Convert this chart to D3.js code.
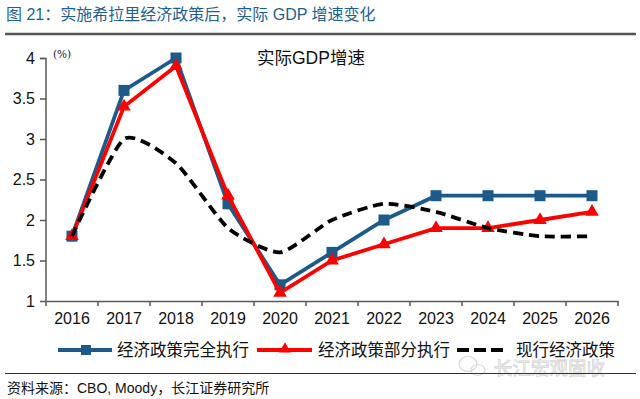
<!DOCTYPE html>
<html><head><meta charset="utf-8">
<script src="https://cdn.jsdelivr.net/npm/d3@7"></script>
<style>body{margin:0;background:#fff;} svg{display:block;}</style>
</head><body>
<svg id="c" width="640" height="399"></svg>
<script>
const years = ["2016","2017","2018","2019","2020","2021","2022","2023","2024","2025","2026"];
const fullPolicy = [1.8,3.6,4.0,2.2,1.2,1.6,2.0,2.3,2.3,2.3,2.3];
const partialPolicy = [1.8,3.4,3.9,2.3,1.1,1.5,1.7,1.9,1.9,2.0,2.1];
const currentPolicy = [1.8,3.0,2.7,1.9,1.6,2.0,2.2,2.1,1.9,1.8,1.8];
const yTicks = [1,1.5,2,2.5,3,3.5,4];
const seriesNames = ["经济政策完全执行","经济政策部分执行","现行经济政策"];

const svg = d3.select("#c");
const font = "'Liberation Sans', Arial, 'Noto Sans CJK SC', sans-serif";
const cjk = "'Liberation Sans', 'Noto Sans CJK SC', sans-serif";
const blue = "#1C5A8A", red = "#FF0000", axisCol = "#595959";

// header
svg.append("text").attr("x",6).attr("y",20).attr("font-family",cjk).attr("font-size",16)
  .attr("fill","#1F5F8F").text("图 21：实施希拉里经济政策后，实际 GDP 增速变化");
svg.append("line").attr("x1",5).attr("x2",636).attr("y1",34).attr("y2",34)
  .attr("stroke","#555").attr("stroke-width",2.5);

const x = d3.scaleBand().domain(years).range([46,618]);
const y = d3.scaleLinear().domain([1,4]).range([301,58]);

const xAxis = d3.axisBottom(x).tickSize(0).tickPadding(12);
const gx = svg.append("g").attr("transform","translate(0,301)").call(xAxis);
gx.select(".domain").attr("stroke",axisCol).attr("stroke-width",1.5);
gx.selectAll("text").attr("font-family",font).attr("font-size",16).attr("fill","#111");
const bounds = years.map(d=>x(d)).concat([x.range()[1]]);
gx.selectAll(".bt").data(bounds).enter().append("line").attr("class","bt")
  .attr("x1",d=>d).attr("x2",d=>d).attr("y1",0).attr("y2",5).attr("stroke",axisCol).attr("stroke-width",1.5);

const yAxis = d3.axisLeft(y).tickValues(yTicks).tickSize(6).tickPadding(5).tickFormat(d3.format("~g"));
const gy = svg.append("g").attr("transform","translate(46,0)").call(yAxis);
gy.select(".domain").attr("stroke",axisCol).attr("stroke-width",1.5).attr("d","M-6,58.5H0V301");
gy.selectAll(".tick line").attr("stroke",axisCol).attr("stroke-width",1.5);
gy.selectAll("text").attr("font-family",font).attr("font-size",16).attr("fill","#111");

svg.append("text").attr("x",53).attr("y",58).attr("font-family","'DejaVu Serif', serif").attr("font-size",10.5)
  .attr("fill","#222").text("(%)");
svg.append("text").attr("x",257).attr("y",63.5).attr("font-family",cjk).attr("font-size",17.5)
  .attr("fill","#111").text("实际GDP增速");

const cx = d => x(d) + x.bandwidth()/2;

const lineSmooth = d3.line().x((d,i)=>cx(years[i])).y(d=>y(d)).curve(d3.curveCardinal.tension(0.4));
const lineStraight = d3.line().x((d,i)=>cx(years[i])).y(d=>y(d));

svg.append("path").attr("d",lineStraight(fullPolicy)).attr("fill","none").attr("stroke",blue).attr("stroke-width",3.8);
svg.selectAll(".sq").data(fullPolicy).enter().append("rect")
  .attr("x",(d,i)=>cx(years[i])-5.5).attr("y",d=>y(d)-5.5).attr("width",11).attr("height",11).attr("fill",blue);

svg.append("path").attr("d",lineStraight(partialPolicy)).attr("fill","none").attr("stroke",red).attr("stroke-width",3.8);
const tri = d3.symbol().type(d3.symbolTriangle).size(80);
svg.selectAll(".tri").data(partialPolicy).enter().append("path")
  .attr("d",tri).attr("transform",(d,i)=>`translate(${cx(years[i])},${y(d)})`).attr("fill",red);

svg.append("path").attr("d",lineSmooth(currentPolicy)).attr("fill","none").attr("stroke","#000")
  .attr("stroke-width",3.8).attr("stroke-dasharray","10,6");

// legend
const ly = 350;
const lg = svg.append("g");
lg.append("line").attr("x1",58).attr("x2",112).attr("y1",ly).attr("y2",ly).attr("stroke",blue).attr("stroke-width",4);
lg.append("rect").attr("x",81).attr("y",ly-5).attr("width",10).attr("height",10).attr("fill",blue);
lg.append("text").attr("x",117).attr("y",ly+6).attr("font-family",cjk).attr("font-size",16.5).attr("fill","#111").text(seriesNames[0]);
lg.append("line").attr("x1",257).attr("x2",312).attr("y1",ly).attr("y2",ly).attr("stroke",red).attr("stroke-width",4);
lg.append("path").attr("d",d3.symbol().type(d3.symbolTriangle).size(60)).attr("transform",`translate(285,${ly-1})`).attr("fill",red);
lg.append("text").attr("x",318).attr("y",ly+6).attr("font-family",cjk).attr("font-size",16.5).attr("fill","#111").text(seriesNames[1]);
lg.append("line").attr("x1",457).attr("x2",503).attr("y1",ly).attr("y2",ly).attr("stroke","#000").attr("stroke-width",4).attr("stroke-dasharray","12,5");
lg.append("text").attr("x",516).attr("y",ly+6).attr("font-family",cjk).attr("font-size",16.5).attr("fill","#111").text(seriesNames[2]);

// watermark
svg.append("text").attr("x",494).attr("y",375).attr("font-family",cjk).attr("font-size",18.5)
  .attr("fill","none").attr("stroke","#d4d4d4").attr("stroke-width",0.8).text("长江宏观固收");
svg.append("ellipse").attr("cx",468).attr("cy",364).attr("rx",9).attr("ry",7.5).attr("fill","none").attr("stroke","#d8d8d8").attr("stroke-width",1.2);
svg.append("ellipse").attr("cx",478).attr("cy",370).attr("rx",7).attr("ry",5.5).attr("fill","none").attr("stroke","#d8d8d8").attr("stroke-width",1.2);

// bottom rule and source
svg.append("line").attr("x1",5).attr("x2",636).attr("y1",373.5).attr("y2",373.5).attr("stroke","#333").attr("stroke-width",1);
svg.append("text").attr("x",7).attr("y",393).attr("font-family",cjk).attr("font-size",14)
  .attr("fill","#111").text("资料来源：CBO, Moody，长江证券研究所");
</script>
</body></html>
